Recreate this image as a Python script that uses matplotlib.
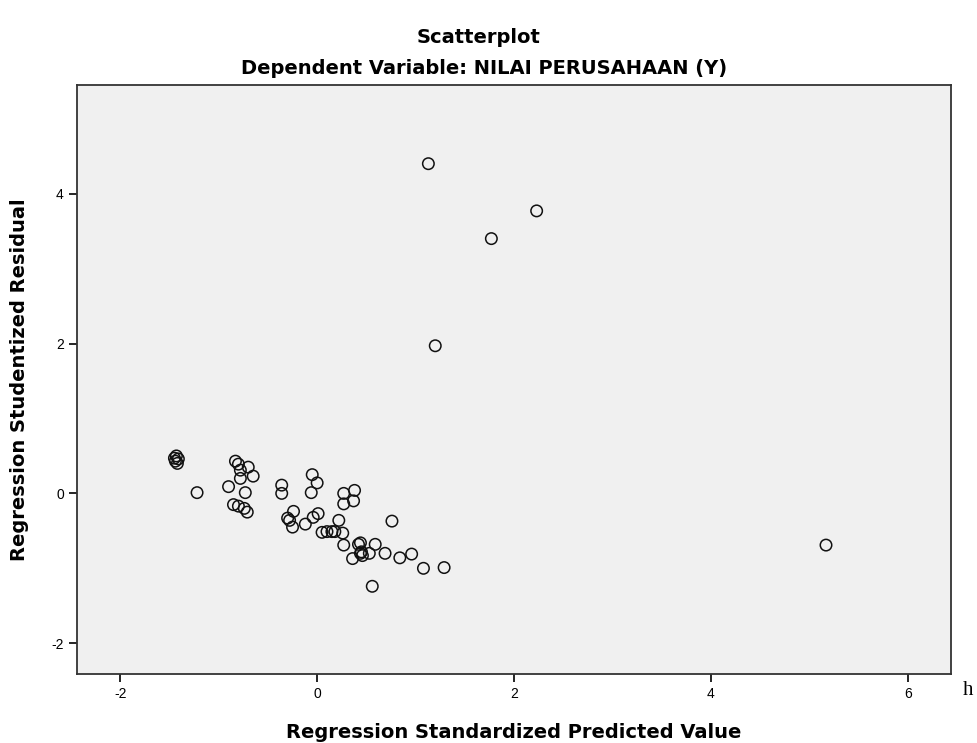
import matplotlib
matplotlib.use("Agg")
from matplotlib import pyplot as plt

# regression standardized predicted value (x) vs studentized residual (y)
pred = [-1.45, -1.43, -1.44, -1.42, -1.41,
        -1.22, -0.90,
        -0.83, -0.80, -0.78, -0.70, -0.78, -0.65, -0.73,
        -0.85, -0.80, -0.74, -0.71,
        -0.36, -0.36,
        -0.05, 0.00, -0.06,
        0.27, 0.38, 0.27, 0.37,
        -0.24, -0.30, -0.28, -0.25,
        -0.12, -0.04, 0.01,
        0.22,
        0.05, 0.10, 0.15, 0.18,
        0.26, 0.76, 0.27,
        0.42, 0.44, 0.59,
        0.46, 0.44, 0.45, 0.36,
        0.53, 0.69, 0.84, 0.96,
        1.08, 1.29, 0.56,
        1.13, 2.23, 1.77, 1.20, 5.17]
resid = [0.47, 0.50, 0.43, 0.40, 0.46,
         0.01, 0.09,
         0.43, 0.39, 0.31, 0.35, 0.20, 0.23, 0.01,
         -0.15, -0.17, -0.20, -0.25,
         0.11, 0.00,
         0.25, 0.14, 0.01,
         0.00, 0.04, -0.14, -0.10,
         -0.24, -0.33, -0.36, -0.45,
         -0.41, -0.32, -0.27,
         -0.36,
         -0.52, -0.51, -0.51, -0.51,
         -0.53, -0.37, -0.69,
         -0.68, -0.66, -0.68,
         -0.83, -0.80, -0.78, -0.87,
         -0.80, -0.80, -0.86, -0.81,
         -1.00, -0.99, -1.24,
         4.40, 3.77, 3.40, 1.97, -0.69]

xticks = [-2, 0, 2, 4, 6]
yticks = [-2, 0, 2, 4]

plt.rcParams['font.family'] = ['Liberation Sans', 'DejaVu Sans']
plt.rcParams['axes.unicode_minus'] = False

fig = plt.figure(figsize=(9.77, 7.43), dpi=100)
ax = fig.add_axes([0.0788, 0.0929, 0.8946, 0.7927])
ax.set_facecolor('#f0f0f0')

ax.scatter(pred, resid, s=68, facecolors='none', edgecolors='#111111', linewidths=1.1)

ax.set_xlim(-2.44, 6.44)
ax.set_ylim(-2.41, 5.45)
ax.set_xticks(xticks)
ax.set_yticks(yticks)
ax.tick_params(direction='out', length=6, width=1.2, labelsize=10, colors='black')
for sp in ax.spines.values():
    sp.set_linewidth(1.3)
    sp.set_color('#333333')

lab = dict(fontsize=14, fontweight='bold', family='DejaVu Sans')
ax.set_xlabel('Regression Standardized Predicted Value', labelpad=16, **lab)
ax.set_ylabel('Regression Studentized Residual', labelpad=16, **lab)

fig.text(0.49, 0.950, 'Scatterplot', ha='center', va='center', **lab)
fig.text(0.495, 0.908, 'Dependent Variable: NILAI PERUSAHAAN (Y)', ha='center', va='center', **lab)
# stray character at the right edge of the original screenshot
fig.text(0.985, 0.064, 'h', fontsize=15, family='Liberation Serif', ha='left', va='baseline')

fig.savefig('out.png', dpi=100)
